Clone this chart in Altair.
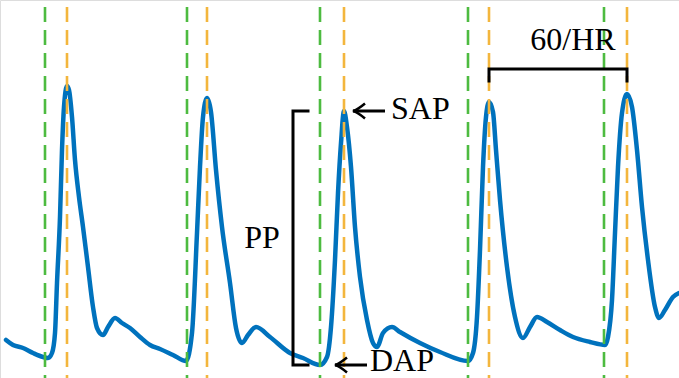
import altair as alt
import pandas as pd

# Arterial blood pressure trace: time in seconds, pressure in mmHg
time_s = [
    0.030, 0.065, 0.115, 0.165, 0.215, 0.240, 0.260, 0.275, 0.285, 0.300,
    0.310, 0.320, 0.335, 0.345, 0.360, 0.375, 0.395, 0.415, 0.440, 0.465,
    0.485, 0.515, 0.540, 0.575, 0.610, 0.650, 0.700, 0.750, 0.800, 0.865,
    0.930, 0.960, 0.985, 1.000, 1.015, 1.035, 1.055, 1.080, 1.110, 1.150,
    1.180, 1.210, 1.240, 1.280, 1.350, 1.450, 1.515, 1.600, 1.635, 1.655,
    1.675, 1.690, 1.705, 1.720, 1.735, 1.755, 1.775, 1.800, 1.835, 1.865,
    1.885, 1.915, 1.960, 2.000, 2.100, 2.200, 2.340, 2.365, 2.385, 2.400,
    2.415, 2.430, 2.445, 2.465, 2.480, 2.500, 2.535, 2.575, 2.615, 2.650,
    2.685, 2.735, 2.800, 2.865, 2.950, 3.025, 3.040, 3.060, 3.075, 3.090,
    3.110, 3.135, 3.160, 3.185, 3.210, 3.240, 3.275, 3.295, 3.325, 3.365,
    3.395,
]
pressure_mmHg = [
    65.00, 63.75, 63.00, 61.75, 60.75, 60.50, 61.75, 66.75, 79.25, 95.75,
    112.5, 123.25, 128.5, 127.5, 120.75, 110.0, 100.75, 93.25, 83.25, 73.25,
    68.00, 66.25, 68.25, 70.50, 69.25, 68.00, 65.75, 63.75, 62.75, 61.25,
    59.75, 66.75, 91.75, 108.25, 120.75, 125.5, 122.0, 107.5, 93.25, 79.25,
    68.00, 64.25, 66.25, 68.25, 65.75, 61.75, 60.50, 58.75, 60.75, 68.25,
    85.00, 101.75, 114.25, 122.25, 118.25, 108.25, 93.25, 80.75, 70.00, 64.25,
    63.25, 66.75, 68.25, 67.00, 64.25, 62.00, 59.75, 61.75, 70.75, 87.50,
    108.25, 120.75, 124.5, 122.0, 112.5, 100.0, 83.25, 70.75, 65.50, 68.25,
    70.75, 69.50, 67.50, 65.75, 64.50, 63.75, 65.75, 75.00, 91.75, 108.25,
    121.75, 126.5, 123.25, 112.5, 98.25, 85.00, 73.25, 70.50, 72.50, 75.75,
    76.75,
]

# Beat onsets (feet) and systolic peaks
onset_times = [0.225, 0.935, 1.600, 2.340, 3.020]
peak_times = [0.335, 1.035, 1.720, 2.445, 3.135]

# Beat used to illustrate systolic / diastolic pressure
sap_value = 122.25
dap_value = 58.75

# Two consecutive peaks spanning one beat period (60/HR)
period_start, period_end = 2.445, 3.135
period_level, period_tick = 132.75, 129.75

t_domain = [0, 3.395]
p_domain = [55.5, 150]

x_scale = alt.Scale(domain=t_domain, nice=False, zero=False)
y_scale = alt.Scale(domain=p_domain, nice=False, zero=False)
X = lambda f: alt.X(f, type="quantitative", scale=x_scale, axis=None)
Y = lambda f: alt.Y(f, type="quantitative", scale=y_scale, axis=None)

SERIF = "Liberation Serif"
FS = 32
BLUE = "#0072BD"
GREEN = "#4DBB40"
ORANGE = "#F3B63D"

trace = pd.DataFrame({"t": time_s, "p": pressure_mmHg})
wave = alt.Chart(trace).mark_line(
    color=BLUE, strokeWidth=4.5, interpolate="monotone", strokeCap="round", strokeJoin="round"
).encode(x=X("t"), y=Y("p"))

dash = dict(strokeDash=[15, 8], strokeDashOffset=16, strokeWidth=2.6)
onsets = alt.Chart(pd.DataFrame({"t": onset_times})).mark_rule(color=GREEN, **dash).encode(x=X("t"))
peaks = alt.Chart(pd.DataFrame({"t": peak_times})).mark_rule(color=ORANGE, **dash).encode(x=X("t"))

# Brackets drawn as ordered polylines
pp_x, pp_tick = 1.465, 1.540
brackets = pd.DataFrame({
    "t": [pp_tick, pp_x, pp_x, pp_tick,
          period_start, period_start, period_end, period_end],
    "p": [sap_value, sap_value, dap_value, dap_value,
          period_tick, period_level, period_level, period_tick],
    "k": [0, 1, 2, 3, 0, 1, 2, 3],
    "g": ["pp"] * 4 + ["hr"] * 4,
})
bracket = alt.Chart(brackets).mark_line(
    color="black", strokeWidth=3, strokeJoin="miter", strokeCap="square"
).encode(x=X("t"), y=Y("p"), order="k:Q", detail="g:N")

# Arrows pointing at SAP and DAP
arrows = pd.DataFrame({
    "tip": [1.765, 1.675],
    "tail": [1.925, 1.835],
    "p": [sap_value, dap_value],
})
shafts = alt.Chart(arrows).mark_rule(color="black", strokeWidth=3).encode(
    x=X("tip"), x2="tail", y=Y("p")
)
heads = alt.Chart(arrows).mark_point(
    shape="M1,-0.62 Q0.35,-0.08 0,0 Q0.35,0.08 1,0.62",
    size=576, filled=False, color="black", strokeWidth=2.5, opacity=1,
).encode(x=X("tip"), y=Y("p"))

text_style = dict(font=SERIF, fontSize=FS, color="black", fontWeight="normal")

sap_text = alt.Chart(pd.DataFrame({"t": [1.955], "p": [sap_value], "text": ["SAP"]})).mark_text(
    align="left", baseline="middle", dy=-2, **text_style
).encode(x=X("t"), y=Y("p"), text="text:N")

dap_text = alt.Chart(pd.DataFrame({"t": [1.850], "p": [dap_value], "text": ["DAP"]})).mark_text(
    align="left", baseline="middle", dy=-4, **text_style
).encode(x=X("t"), y=Y("p"), text="text:N")

pp_text = alt.Chart(pd.DataFrame({"t": [1.31], "p": [(sap_value + dap_value) / 2], "text": ["PP"]})).mark_text(
    align="center", baseline="middle", **text_style
).encode(x=X("t"), y=Y("p"), text="text:N")

hr_text = alt.Chart(pd.DataFrame({"t": [2.865], "p": [137.5], "text": ["60/HR"]})).mark_text(
    align="center", baseline="alphabetic", **text_style
).encode(x=X("t"), y=Y("p"), text="text:N")

chart = alt.layer(
    wave, onsets, peaks, bracket, shafts, heads, sap_text, dap_text, pp_text, hr_text
).properties(
    width=679, height=378, autosize=alt.AutoSizeParams(type="none"), padding=0
).configure_view(stroke=None).configure(background="white", font=SERIF)

chart.save("out.html", embed_options={"renderer": "svg", "actions": False})
